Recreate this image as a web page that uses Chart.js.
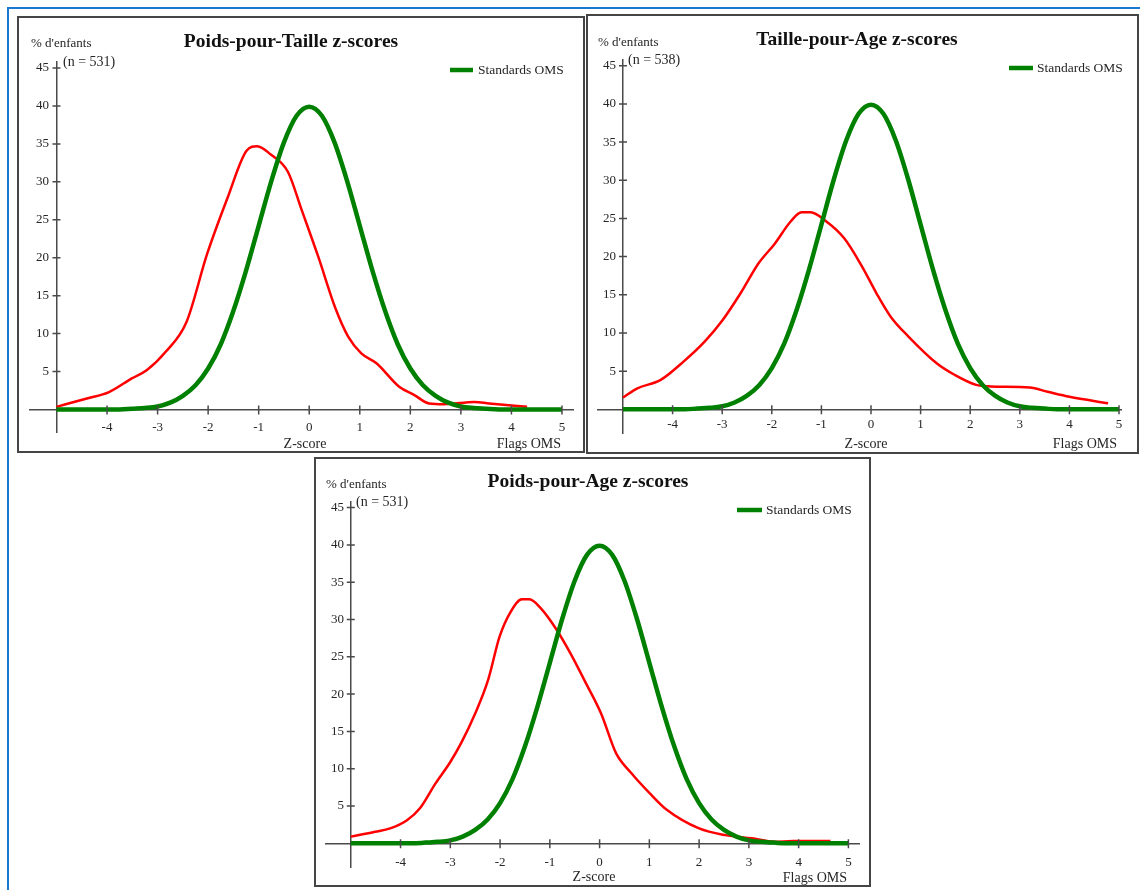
<!DOCTYPE html>
<html>
<head>
<meta charset="utf-8">
<script src="https://cdn.jsdelivr.net/npm/chart.js@4.4.1/dist/chart.umd.min.js"></script>
<style>
  html, body { margin: 0; padding: 0; background: #fff; width: 1140px; height: 890px; overflow: hidden; }
  .blue-top { position: absolute; left: 7px; top: 7px; width: 1133px; height: 2px; background: #1a78d2; }
  .blue-left { position: absolute; left: 7px; top: 7px; width: 2px; height: 883px; background: #1a78d2; }
  .panel { position: absolute; box-sizing: border-box; border: 2px solid #454545; }
  canvas { position: absolute; }
</style>
</head>
<body>
<div class="blue-top"></div>
<div class="blue-left"></div>
<script>
// ---------------- DATA ----------------
const xTickValues = [-5, -4, -3, -2, -1, 0, 1, 2, 3, 4, 5];
const yTickValues = [0, 5, 10, 15, 20, 25, 30, 35, 40, 45];

// WHO standard curve
const whoZ = [-5, -4.75, -4.5, -4.25, -4, -3.75, -3.5, -3.25, -3, -2.75, -2.5, -2.25, -2, -1.75, -1.5, -1.25, -1, -0.75, -0.5, -0.25,
              0, 0.25, 0.5, 0.75, 1, 1.25, 1.5, 1.75, 2, 2.25, 2.5, 2.75, 3, 3.25, 3.5, 3.75, 4, 4.25, 4.5, 4.75, 5];
const whoPct = [0, 0, 0, 0, 0, 0, 0.1, 0.2, 0.4, 0.9, 1.8, 3.2, 5.4, 8.6, 13.0, 18.3, 24.2, 30.1, 35.2, 38.7,
                39.9, 38.7, 35.2, 30.1, 24.2, 18.3, 13.0, 8.6, 5.4, 3.2, 1.8, 0.9, 0.4, 0.2, 0.1, 0, 0, 0, 0, 0, 0];

// Poids-pour-Taille (n = 531)
const wfhZ = [-5, -4.4, -3.96, -3.51, -3.21, -2.84, -2.43, -2.02, -1.61, -1.24, -1.03, -0.76, -0.42, -0.15, 0.18, 0.52, 0.77, 1.03, 1.33, 1.78, 2.08, 2.37, 2.67, 3.27, 3.56, 4.31];
const wfhPct = [0.35, 1.45, 2.3, 4.1, 5.2, 7.6, 11.5, 20.5, 28, 34.1, 34.7, 33.6, 31.3, 26.3, 20.1, 13.3, 9.6, 7.4, 6.1, 3.0, 1.9, 0.8, 0.7, 1.0, 0.8, 0.35];

// Taille-pour-Age (n = 538)
const hfaZ = [-5, -4.71, -4.24, -3.78, -3.35, -2.99, -2.63, -2.27, -1.94, -1.62, -1.40, -1.22, -0.9, -0.54, -0.18, 0.11, 0.40, 0.76, 1.33, 1.69, 2.12, 2.41, 3.2, 3.56, 4.0, 4.78];
const hfaPct = [1.55, 2.75, 3.85, 6.25, 8.9, 11.7, 15.2, 19.1, 21.7, 24.6, 25.8, 25.8, 24.6, 22.4, 18.7, 15.2, 12.1, 9.5, 6.0, 4.5, 3.2, 3.0, 2.85, 2.3, 1.65, 0.8];

// Poids-pour-Age (n = 531)
const wfaZ = [-5, -4.51, -4.21, -3.87, -3.61, -3.3, -3.0, -2.77, -2.5, -2.24, -2.01, -1.79, -1.56, -1.41, -1.18, -0.88, -0.58, -0.27, 0.03, 0.33, 0.64, 1.01, 1.35, 2.0, 2.53, 3.06, 3.51, 3.89, 4.64];
const wfaPct = [0.9, 1.55, 2.0, 3.1, 4.7, 8.0, 10.9, 13.6, 17.4, 21.9, 27.7, 31.0, 32.7, 32.7, 31.5, 28.8, 25.4, 21.4, 17.4, 12.1, 9.4, 6.7, 4.5, 2.0, 1.1, 0.67, 0.22, 0.3, 0.3];

const titles = ['Poids-pour-Taille z-scores', 'Taille-pour-Age z-scores', 'Poids-pour-Age z-scores'];
const nLabels = ['(n = 531)', '(n = 538)', '(n = 531)'];
const yLabel = "% d'enfants";
const xLabel = 'Z-score';
const flagsLabel = 'Flags OMS';
const legendLabel = 'Standards OMS';

// ---------------- RENDERING ----------------
const SERIF = '"Liberation Serif", "Times New Roman", serif';
const GREEN = '#008000';
const RED = '#ff0000';
const AXIS = '#4a4a4a';
const TEXT = '#262626';

function toPoints(xs, ys) { return xs.map((x, i) => ({ x: x, y: ys[i] })); }

const panelPlugin = {
  id: 'panelText',
  afterDraw(chart, args, o) {
    const ctx = chart.ctx;
    const xs = chart.scales.x, ys = chart.scales.y;
    const axX = xs.getPixelForValue(-5);
    const axY = ys.getPixelForValue(0);
    ctx.save();
    // crossing tick marks
    ctx.strokeStyle = AXIS;
    ctx.lineWidth = 1.5;
    ctx.beginPath();
    xs.ticks.forEach(t => {
      if (t.value === -5) return;
      const px = xs.getPixelForValue(t.value);
      ctx.moveTo(px, axY - 4); ctx.lineTo(px, axY + 5);
    });
    ys.ticks.forEach(t => {
      if (t.value === 0) return;
      const py = ys.getPixelForValue(t.value);
      ctx.moveTo(axX - 4, py); ctx.lineTo(axX + 4, py);
    });
    ctx.stroke();
    // texts
    const ox = o.ox, oy = o.oy;
    ctx.textBaseline = 'middle';
    o.texts.forEach(t => {
      ctx.font = t.font;
      ctx.fillStyle = t.color || TEXT;
      ctx.textAlign = t.align || 'left';
      ctx.fillText(t.text, t.x - ox, t.y - oy);
    });
    // legend
    const lg = o.legend;
    const ds = chart.data.datasets[0];
    ctx.strokeStyle = ds.borderColor;
    ctx.lineWidth = ds.borderWidth;
    ctx.beginPath();
    ctx.moveTo(lg.x1 - ox, lg.y - oy); ctx.lineTo(lg.x2 - ox, lg.y - oy);
    ctx.stroke();
    ctx.font = '13.5px ' + SERIF;
    ctx.fillStyle = TEXT;
    ctx.textAlign = 'left';
    ctx.fillText(ds.label, lg.tx - ox, lg.y - oy);
    ctx.restore();
  }
};

function makePanel(p) {
  const box = document.createElement('div');
  box.className = 'panel';
  Object.assign(box.style, { left: p.box[0] + 'px', top: p.box[1] + 'px', width: p.box[2] + 'px', height: p.box[3] + 'px' });
  document.body.appendChild(box);

  const cv = document.createElement('canvas');
  cv.width = p.cv[2]; cv.height = p.cv[3];
  Object.assign(cv.style, { left: p.cv[0] + 'px', top: p.cv[1] + 'px', width: p.cv[2] + 'px', height: p.cv[3] + 'px' });
  document.body.appendChild(cv);

  const tickFont = { family: SERIF, size: 13 };
  const setX = s => { s.ticks = xTickValues.map(v => ({ value: v })); };
  const setY = s => { s.ticks = yTickValues.map(v => ({ value: v })); };
  new Chart(cv, {
    type: 'line',
    data: {
      datasets: [
        { label: legendLabel, data: toPoints(whoZ, whoPct), borderColor: GREEN, borderWidth: 4.5,
          pointRadius: 0, fill: false, cubicInterpolationMode: 'monotone' },
        { label: p.title, data: toPoints(p.z, p.pct), borderColor: RED, borderWidth: 2.5,
          pointRadius: 0, fill: false, cubicInterpolationMode: 'monotone' }
      ]
    },
    options: {
      responsive: false, animation: false, devicePixelRatio: 1,
      layout: { padding: p.pad },
      events: [],
      plugins: {
        legend: { display: false }, tooltip: { enabled: false },
        panelText: {
          ox: p.cv[0], oy: p.cv[1],
          texts: [
            { text: p.title, x: p.t.title[0], y: p.t.title[1], align: 'center', font: 'bold 19.5px ' + SERIF, color: '#111' },
            { text: yLabel, x: p.t.yl[0], y: p.t.yl[1], font: '13px ' + SERIF },
            { text: p.n, x: p.t.n[0], y: p.t.n[1], font: '14px ' + SERIF },
            { text: xLabel, x: p.t.xl[0], y: p.t.xl[1], align: 'center', font: '14px ' + SERIF },
            { text: flagsLabel, x: p.t.fl[0], y: p.t.fl[1], align: 'right', font: '14px ' + SERIF }
          ],
          legend: p.legend
        }
      },
      scales: {
        x: {
          type: 'linear', min: p.xr[0], max: p.xr[1], position: { y: 0 },
          afterBuildTicks: setX,
          ticks: { autoSkip: false, maxRotation: 0, padding: p.xPad, font: tickFont, color: TEXT,
                   callback: v => (v === -5 ? '' : String(v)) },
          grid: { display: false, drawTicks: false },
          border: { display: true, color: AXIS, width: 1.5 }
        },
        y: {
          type: 'linear', min: p.yr[0], max: p.yr[1], position: { x: -5 },
          afterBuildTicks: setY,
          ticks: { display: false },
          grid: { display: false, drawTicks: false },
          border: { display: true, color: AXIS, width: 1.5 }
        },
        yLab: {
          type: 'linear', axis: 'y', min: p.yr[0], max: p.yr[1], position: 'left',
          afterBuildTicks: setY,
          afterFit: s => { s.width = 0; },
          ticks: { autoSkip: false, mirror: true, crossAlign: 'far', padding: p.yPad, font: tickFont, color: TEXT,
                   callback: v => (v === 0 ? '' : String(v)) },
          grid: { display: false, drawTicks: false },
          border: { display: false }
        }
      }
    },
    plugins: [panelPlugin]
  });
}

makePanel({
  box: [17, 16, 568, 437], cv: [17, 16, 569, 437], pad: { left: 13, top: 46, right: 13, bottom: 21 },
  xr: [-5.524, 5.218], yr: [-2.965, 45.79], xPad: 10, yPad: 6,
  z: wfhZ, pct: wfhPct, title: titles[0], n: nLabels[0],
  t: { title: [291, 42], yl: [31, 44], n: [63, 62], xl: [305, 444], fl: [561, 444] },
  legend: { x1: 450, x2: 473, y: 70, tx: 478 }
});
makePanel({
  box: [586, 14, 553, 440], cv: [586, 14, 554, 440], pad: { left: 12, top: 46, right: 19, bottom: 21 },
  xr: [-5.504, 5.04], yr: [-3.10, 45.75], xPad: 7, yPad: 5,
  z: hfaZ, pct: hfaPct, title: titles[1], n: nLabels[1],
  t: { title: [857, 40], yl: [598, 43], n: [628, 60], xl: [866, 444], fl: [1117, 444] },
  legend: { x1: 1009, x2: 1033, y: 68, tx: 1037 }
});
makePanel({
  box: [314, 457, 557, 430], cv: [314, 457, 557, 430], pad: { left: 12, top: 45, right: 12, bottom: 20 },
  xr: [-5.498, 5.213], yr: [-3.17, 45.75], xPad: 11, yPad: 5,
  z: wfaZ, pct: wfaPct, title: titles[2], n: nLabels[2],
  t: { title: [588, 482], yl: [326, 485], n: [356, 502], xl: [594, 877], fl: [847, 878] },
  legend: { x1: 737, x2: 762, y: 510, tx: 766 }
});
</script>
</body>
</html>
